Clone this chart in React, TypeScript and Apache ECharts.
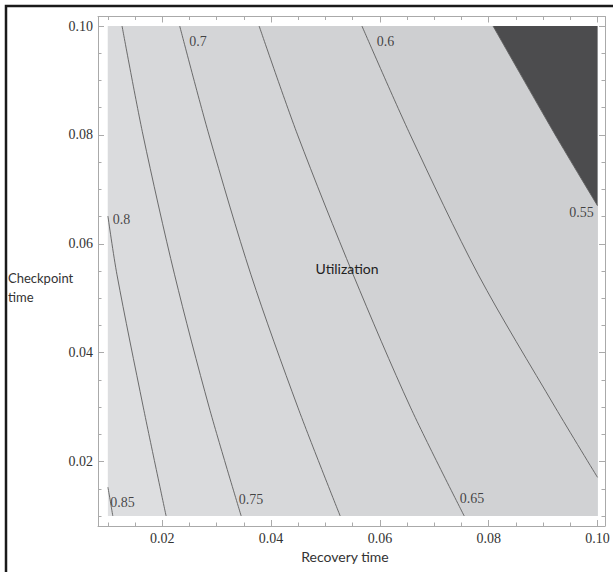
import React, { useEffect, useRef } from "react";
import * as echarts from "echarts";

// Data domain
const X_MIN = 0.01;
const X_MAX = 0.1;
const Y_MIN = 0.01;
const Y_MAX = 0.1;

// Tick values
const xMajorTicks = [0.02, 0.04, 0.06, 0.08, 0.1];
const yMajorTicks = [0.02, 0.04, 0.06, 0.08, 0.1];
const minorTicks = [
  0.01, 0.015, 0.02, 0.025, 0.03, 0.035, 0.04, 0.045, 0.05, 0.055,
  0.06, 0.065, 0.07, 0.075, 0.08, 0.085, 0.09, 0.095, 0.1,
];

// Contour lines: [recovery time, checkpoint time]
const contourLevels = ["0.85", "0.8", "0.75", "0.7", "0.65", "0.6", "0.55"];
const contour085 = [[0.01, 0.0153], [0.01045, 0.0127], [0.0109, 0.01]];
const contour080 = [[0.01, 0.0651], [0.01167, 0.0543], [0.0165, 0.03], [0.0207, 0.01]];
const contour075 = [[0.0126, 0.1], [0.01645, 0.08], [0.02226, 0.0543], [0.0286, 0.03], [0.0345, 0.01]];
const contour070 = [[0.0232, 0.1], [0.02858, 0.08], [0.0363, 0.0543], [0.0449, 0.03], [0.0527, 0.01]];
const contour065 = [[0.0378, 0.1], [0.04487, 0.08], [0.0551, 0.0543], [0.0656, 0.03], [0.0755, 0.01]];
const contour060 = [[0.0567, 0.1], [0.06559, 0.08], [0.0781, 0.0543], [0.0922, 0.03], [0.1, 0.0171]];
const contour055 = [[0.0808, 0.1], [0.09224, 0.08], [0.1, 0.067]];
const contours = [contour085, contour080, contour075, contour070, contour065, contour060, contour055];

// Label anchor points of the contour labels (data coords)
const contourLabelPos = [
  [0.0127, 0.01256],
  [0.01252, 0.06442],
  [0.03631, 0.01302],
  [0.02658, 0.09721],
  [0.07693, 0.0133],
  [0.06105, 0.09712],
  [0.09708, 0.06583],
];

// Band fills: [0] = above 0.85, [k+1] = beyond contour k
const bandColors = ["#e0e1e3", "#dddee0", "#dadbdd", "#d7d8da", "#d4d5d7", "#d1d2d4", "#cecfd1", "#4c4c4e"];

const FRAME = "#aaaaaa";
const SERIF = "'Liberation Serif', 'Times New Roman', serif";
const SANS = "Lato, 'Open Sans', sans-serif";

export default function App() {
  const ref = useRef<HTMLDivElement>(null);

  useEffect(() => {
    document.body.style.margin = "0";
    if (!ref.current) return;
    const chart = echarts.init(ref.current, null, { renderer: "svg" });

    const xLo = 0.00818, xHi = 0.10138;
    const yLo = 0.00816, yHi = 0.10175;

    const mkX = (position: string, ticks: number[], len: number, labels: boolean, line: boolean) => ({
      type: "value",
      position,
      min: xLo,
      max: xHi,
      axisLine: { show: line, onZero: false, lineStyle: { color: FRAME, width: 1 } },
      axisTick: { show: true, inside: true, length: len, customValues: ticks, lineStyle: { color: FRAME, width: 1 } },
      axisLabel: labels
        ? { show: true, customValues: xMajorTicks, formatter: (v: number) => v.toFixed(2), margin: 5, fontFamily: SERIF, fontSize: 14, color: "#333" }
        : { show: false },
      splitLine: { show: false },
    });
    const mkY = (position: string, ticks: number[], len: number, labels: boolean, line: boolean) => ({
      type: "value",
      position,
      min: yLo,
      max: yHi,
      axisLine: { show: line, onZero: false, lineStyle: { color: FRAME, width: 1 } },
      axisTick: { show: true, inside: true, length: len, customValues: ticks, lineStyle: { color: FRAME, width: 1 } },
      axisLabel: labels
        ? { show: true, customValues: yMajorTicks, formatter: (v: number) => v.toFixed(2), margin: 5, fontFamily: SERIF, fontSize: 14, color: "#333" }
        : { show: false },
      splitLine: { show: false },
    });

    const series: any[] = [
      {
        type: "custom",
        xAxisIndex: 0,
        yAxisIndex: 0,
        silent: true,
        z: 1,
        dimensions: ["x", "y", "band"],
        encode: { x: 0, y: 1 },
        data: bandColors.map((_, i) => [X_MIN, Y_MIN, i]),
        renderItem: (_params: any, api: any) => {
          const i = api.value(2) as number;
          let pts: number[][];
          if (i === 0) {
            pts = [[X_MIN, Y_MIN], [X_MAX, Y_MIN], [X_MAX, Y_MAX], [X_MIN, Y_MAX]];
          } else {
            const c = contours[i - 1];
            pts = c.slice();
            const first = c[0];
            const last = c[c.length - 1];
            if (last[1] <= Y_MIN + 1e-9) pts.push([X_MAX, Y_MIN]);
            pts.push([X_MAX, Y_MAX]);
            if (first[0] <= X_MIN + 1e-9) pts.push([X_MIN, Y_MAX]);
          }
          return {
            type: "polygon",
            shape: { points: pts.map((p) => api.coord(p)), smooth: 0 },
            style: { fill: bandColors[i], stroke: null },
          };
        },
      },
    ];

    contours.forEach((c, k) => {
      series.push({
        type: "line",
        xAxisIndex: 0,
        yAxisIndex: 0,
        data: c,
        showSymbol: false,
        symbol: "none",
        smooth: 0.3,
        silent: true,
        z: 3,
        lineStyle: { color: "#5e5e5e", width: 0.9 },
        name: contourLevels[k],
      });
    });

    series.push({
      type: "scatter",
      xAxisIndex: 0,
      yAxisIndex: 0,
      symbol: "circle",
      symbolSize: 1,
      itemStyle: { color: "transparent" },
      silent: true,
      z: 4,
      data: contourLabelPos.map((p, k) => ({ value: p, name: contourLevels[k] })),
      label: {
        show: true,
        position: "inside",
        formatter: (p: any) => p.name,
        fontFamily: SERIF,
        fontSize: 14,
        color: "#1a1a1a",
        textBorderWidth: 0,
        textBorderColor: "transparent",
      },
    });

    chart.setOption({
      animation: false,
      backgroundColor: "#ffffff",
      grid: { left: 98, top: 16.5, width: 507, height: 509.5 },
      xAxis: [
        mkX("bottom", xMajorTicks, 6, true, true),
        mkX("top", xMajorTicks, 6, false, true),
        mkX("bottom", minorTicks, 3.5, false, false),
        mkX("top", minorTicks, 3.5, false, false),
      ],
      yAxis: [
        mkY("left", yMajorTicks, 6, true, true),
        mkY("right", yMajorTicks, 6, false, true),
        mkY("left", minorTicks, 3.5, false, false),
        mkY("right", minorTicks, 3.5, false, false),
      ],
      series,
      graphic: [
        {
          type: "rect",
          shape: { x: 6, y: 6, width: 700, height: 700 },
          style: { fill: "none", stroke: "#1a1a1a", lineWidth: 2.5 },
          silent: true,
        },
        {
          type: "text",
          z: 10,
          style: { text: "Utilization", x: 347, y: 268, textAlign: "center", textVerticalAlign: "middle", font: `14px ${SANS}`, fill: "#222" },
        },
        {
          type: "text",
          style: { text: "Recovery time", x: 345, y: 556, textAlign: "center", textVerticalAlign: "middle", font: `14px ${SANS}`, fill: "#333" },
        },
        {
          type: "text",
          style: { text: "Checkpoint\ntime", x: 8, y: 287.5, textAlign: "left", textVerticalAlign: "middle", lineHeight: 19, font: `13px ${SANS}`, fill: "#333" },
        },
      ],
    });

    return () => chart.dispose();
  }, []);

  return <div ref={ref} style={{ width: 613, height: 572 }} />;
}
